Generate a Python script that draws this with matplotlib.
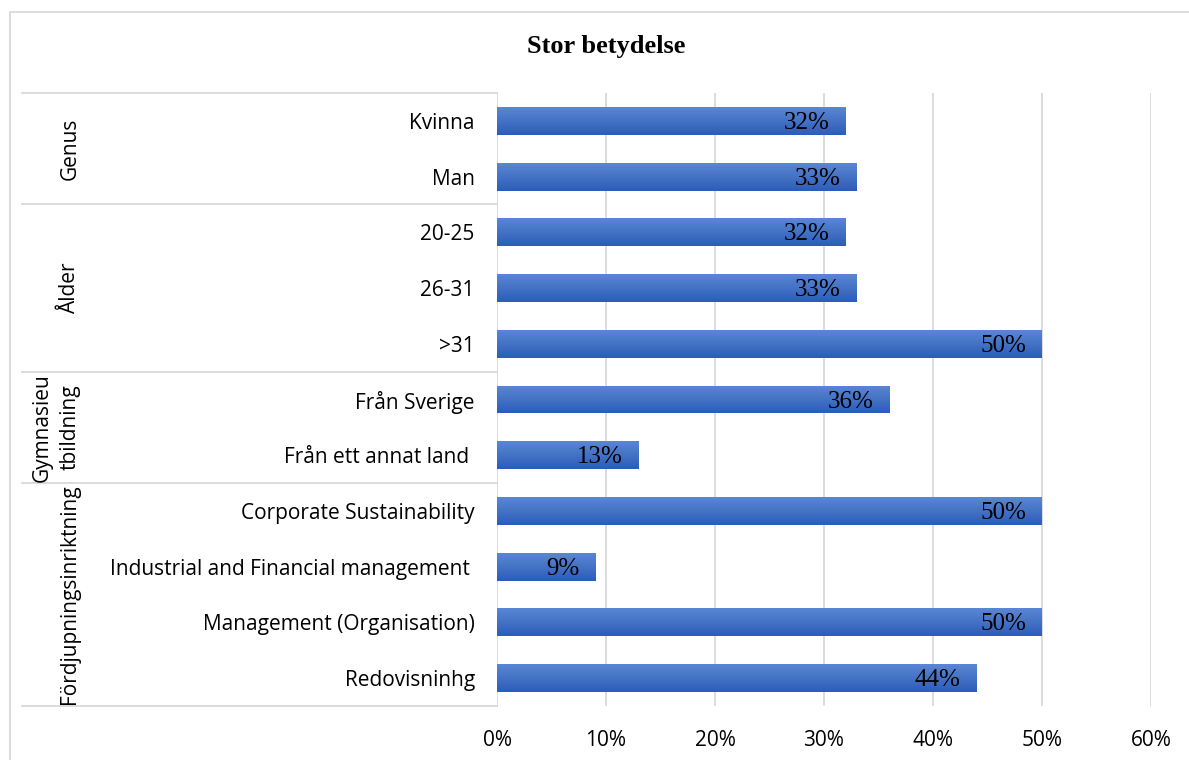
import matplotlib.pyplot as plt
import numpy as np
from matplotlib.transforms import blended_transform_factory
from matplotlib.patches import Rectangle
from matplotlib.colors import LinearSegmentedColormap

# data
categories = ['Kvinna', 'Man', '20-25', '26-31', '>31', 'Från Sverige', 'Från ett annat land ',
              'Corporate Sustainability', 'Industrial and Financial management ',
              'Management (Organisation)', 'Redovisninhg']
values = [0.32, 0.33, 0.32, 0.33, 0.50, 0.36, 0.13, 0.50, 0.09, 0.50, 0.44]
group_names = ['Genus', 'Ålder', 'Gymnasieu\ntbildning', 'Fördjupningsinriktning']
group_sizes = [2, 3, 2, 4]
xticks = [0, 0.1, 0.2, 0.3, 0.4, 0.5, 0.6]

W, H = 1189, 760
sans = 'Open Sans'
serif = 'Liberation Serif'
grid_col = '#d9d9d9'

fig = plt.figure(figsize=(W / 100, H / 100), dpi=100)
ax = fig.add_axes([497 / W, 1 - 706 / H, 654 / W, 613 / H])

y = np.arange(len(categories))
bars = ax.barh(y, values, height=0.5, color='#4472c4', zorder=2)

# vertical gradient fill like the Excel bars (light top, darker bottom)
cmap = LinearSegmentedColormap.from_list('bar', ['#5b86d6', '#4472c4', '#2c5cbd'])
grad = np.linspace(0, 1, 64).reshape(-1, 1)
for bar in bars:
    x0, y0 = bar.get_x(), bar.get_y()
    im = ax.imshow(grad, cmap=cmap, aspect='auto', zorder=2.5,
                   extent=[x0, x0 + bar.get_width(), y0 + bar.get_height(), y0])
    im.set_clip_path(bar)

ax.set_xlim(0, 0.6)
ax.set_ylim(len(categories) - 0.5, -0.5)

ax.set_yticks(y)
ax.set_yticklabels(categories, fontsize=15, family=sans)
ax.set_xticks(xticks)
ax.set_xticklabels([f'{int(round(t * 100))}%' for t in xticks], fontsize=15, family=sans)
ax.tick_params(axis='y', length=0, pad=16)
ax.tick_params(axis='x', length=0, pad=17)
ax.grid(axis='x', color=grid_col, lw=1.3, zorder=0)
ax.set_axisbelow(True)
for s in ax.spines.values():
    s.set_visible(False)

# value labels inside the bar end
for yi, v in zip(y, values):
    ax.annotate(f'{int(round(v * 100))}%', (v, yi), xytext=(-16, -2), textcoords='offset pixels',
                ha='right', va='center', fontsize=18, family=serif, color='black', zorder=3)

# group separators and group labels on the left
trans = blended_transform_factory(fig.transFigure, ax.transData)
bounds = np.concatenate([[0], np.cumsum(group_sizes)]) - 0.5
for b in bounds:
    ax.plot([22 / W, 497 / W], [b, b], transform=trans, color=grid_col, lw=1.3, clip_on=False)
for name, lo, hi in zip(group_names, bounds[:-1], bounds[1:]):
    xpos = 56 / W if '\n' in name else 70 / W
    ax.text(xpos, (lo + hi) / 2, name, transform=trans, rotation=90, ha='center', va='center',
            fontsize=15, family=sans, linespacing=1.45)

# title and outer frame
fig.text(606 / W, 1 - 47 / H, 'Stor betydelse', ha='center', va='center',
         fontsize=19, fontweight='bold', family=serif)
fig.add_artist(Rectangle((10 / W, -0.01), 1.0, 1 - 12 / H + 0.01, transform=fig.transFigure,
                         fill=False, edgecolor=grid_col, lw=1.3))

fig.savefig('out.png', dpi=100)
